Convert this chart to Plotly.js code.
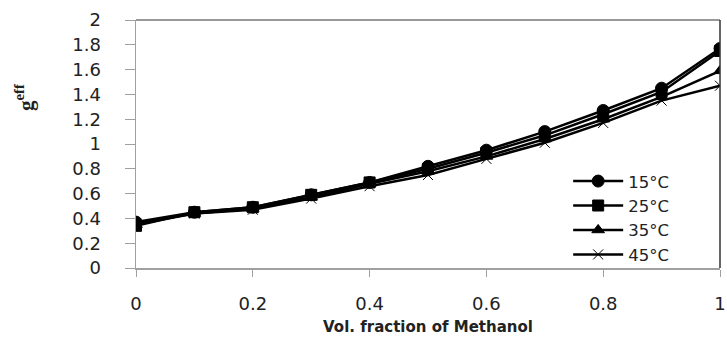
<!DOCTYPE html>
<html><head><meta charset="utf-8">
<script src="https://cdn.plot.ly/plotly-3.0.1.min.js"></script>
<style>body{margin:0;background:#fff}#chart{width:727px;height:337px}</style>
</head><body><div id="chart"></div>
<script>
const xFrac = [0, 0.1, 0.2, 0.3, 0.4, 0.5, 0.6, 0.7, 0.8, 0.9, 1.0];
const g15 = [0.37, 0.45, 0.49, 0.59, 0.69, 0.82, 0.95, 1.10, 1.27, 1.45, 1.77];
const g25 = [0.34, 0.45, 0.49, 0.59, 0.69, 0.80, 0.93, 1.07, 1.24, 1.42, 1.75];
const g35 = [0.35, 0.44, 0.48, 0.57, 0.68, 0.78, 0.90, 1.04, 1.20, 1.38, 1.59];
const g45 = [0.36, 0.44, 0.47, 0.56, 0.66, 0.75, 0.88, 1.01, 1.17, 1.35, 1.47];
const seriesNames = ['15°C', '25°C', '35°C', '45°C'];
const xTicks = [0, 0.2, 0.4, 0.6, 0.8, 1];
const xTickText = ['0', '0.2', '0.4', '0.6', '0.8', '1'];
const yTicks = [0, 0.2, 0.4, 0.6, 0.8, 1, 1.2, 1.4, 1.6, 1.8, 2];
const yTickText = ['0', '0.2', '0.4', '0.6', '0.8', '1', '1.2', '1.4', '1.6', '1.8', '2'];

const symbols = ['circle', 'square', 'triangle-up', 'x-thin-open'];
const sizes = [12, 11, 11, 10];
const data = [g15, g25, g35, g45].map((ys, i) => ({
  x: xFrac, y: ys, name: seriesNames[i], type: 'scatter', mode: 'lines+markers',
  line: {color: '#000', width: 2.5},
  marker: {symbol: symbols[i], size: sizes[i], color: '#000', line: {color: '#000', width: 1}}
}));

const layout = {
  width: 727, height: 337,
  margin: {l: 136, r: 7, t: 20, b: 69},
  paper_bgcolor: '#fff', plot_bgcolor: '#fff',
  font: {family: 'DejaVu Sans, sans-serif', size: 18, color: '#222'},
  showlegend: true,
  legend: {x: 0.74, y: 0.42, xanchor: 'left', yanchor: 'top', bgcolor: 'rgba(0,0,0,0)',
    font: {size: 16.5, color: '#222'}, tracegroupgap: 0, itemwidth: 50},
  xaxis: {range: [0, 1], tickvals: xTicks, ticktext: xTickText, showgrid: false, zeroline: false,
    showline: true, linecolor: '#a0a0a0', linewidth: 1.5, ticks: 'outside', ticklen: 7, tickcolor: '#a0a0a0',
    tickfont: {size: 18}, ticklabelstandoff: 12,
    title: {text: '<b>Vol. fraction of Methanol</b>', font: {size: 15, color: '#222'}, standoff: 8}},
  yaxis: {range: [0, 2], tickvals: yTicks, ticktext: yTickText, showgrid: false, zeroline: false,
    showline: true, linecolor: '#a0a0a0', linewidth: 1.5, ticks: 'outside', ticklen: 10, tickcolor: '#a0a0a0',
    tickfont: {size: 18}, ticklabelstandoff: 20},
  shapes: [
    {type: 'line', xref: 'paper', yref: 'paper', x0: 0, x1: 1, y0: 1, y1: 1, line: {color: '#777', width: 1.5}},
    {type: 'line', xref: 'paper', yref: 'paper', x0: 1, x1: 1, y0: 0, y1: 1, line: {color: '#333', width: 1.5}}
  ],
  annotations: [
    {text: '<b>g<sup>eff</sup></b>', xref: 'paper', yref: 'paper', x: -0.19, y: 0.69, xanchor: 'center', yanchor: 'middle',
     showarrow: false, textangle: -90, font: {family: 'Liberation Serif, serif', size: 21, color: '#222'}}
  ]
};
Plotly.newPlot('chart', data, layout, {displayModeBar: false, staticPlot: true});
</script></body></html>
